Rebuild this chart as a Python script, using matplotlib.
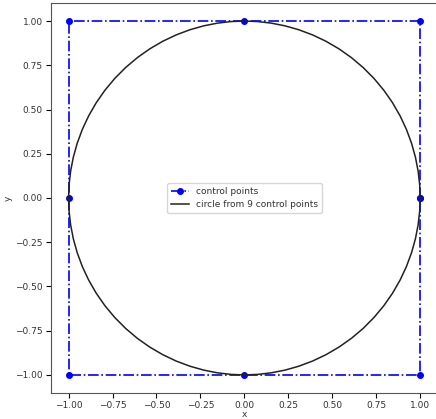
import numpy as np
import matplotlib
matplotlib.use("Agg")
import matplotlib.pyplot as plt

# 9 control points of the NURBS circle (first == last)
ctrl_x = [1, 1, 0, -1, -1, -1, 0, 1, 1]
ctrl_y = [0, 1, 1, 1, 0, -1, -1, -1, 0]
w = np.sqrt(2) / 2
weights = [1, w, 1, w, 1, w, 1, w, 1]

# each quarter is a rational quadratic bezier over 3 control points
cx, cy = [], []
for seg in range(4):
    i = seg * 2
    for t in np.linspace(0, 1, 20):
        b = [(1 - t) ** 2, 2 * t * (1 - t), t ** 2]
        den = sum(b[k] * weights[i + k] for k in range(3))
        cx.append(sum(b[k] * weights[i + k] * ctrl_x[i + k] for k in range(3)) / den)
        cy.append(sum(b[k] * weights[i + k] * ctrl_y[i + k] for k in range(3)) / den)

plt.rcParams['font.size'] = 6.5
plt.rcParams['text.color'] = '#333333'
plt.rcParams['xtick.labelcolor'] = '#333333'
plt.rcParams['ytick.labelcolor'] = '#333333'
plt.rcParams['axes.labelcolor'] = '#333333'
fig = plt.figure(figsize=(4.36, 4.19), dpi=100)
ax = fig.add_axes([0.117, 0.063, 0.887, 0.929])
ax.plot(ctrl_x, ctrl_y, 'b-.o', markersize=4, linewidth=1.2, label='control points')
ax.plot(cx, cy, '-', color='#222222', linewidth=1.1, label='circle from 9 control points')
ax.set_xlim(-1.1, 1.1)
ax.set_ylim(-1.1, 1.1)
ax.set_xticks(np.arange(-1, 1.01, 0.25))
ax.set_yticks(np.arange(-1, 1.01, 0.25))
ax.tick_params(pad=2.5)
for s in ax.spines.values():
    s.set_color('#555555')
ax.set_xlabel('x', labelpad=0)
ax.set_ylabel('y', labelpad=2)
ax.legend(loc='center')
fig.savefig('out.png', dpi=100)
